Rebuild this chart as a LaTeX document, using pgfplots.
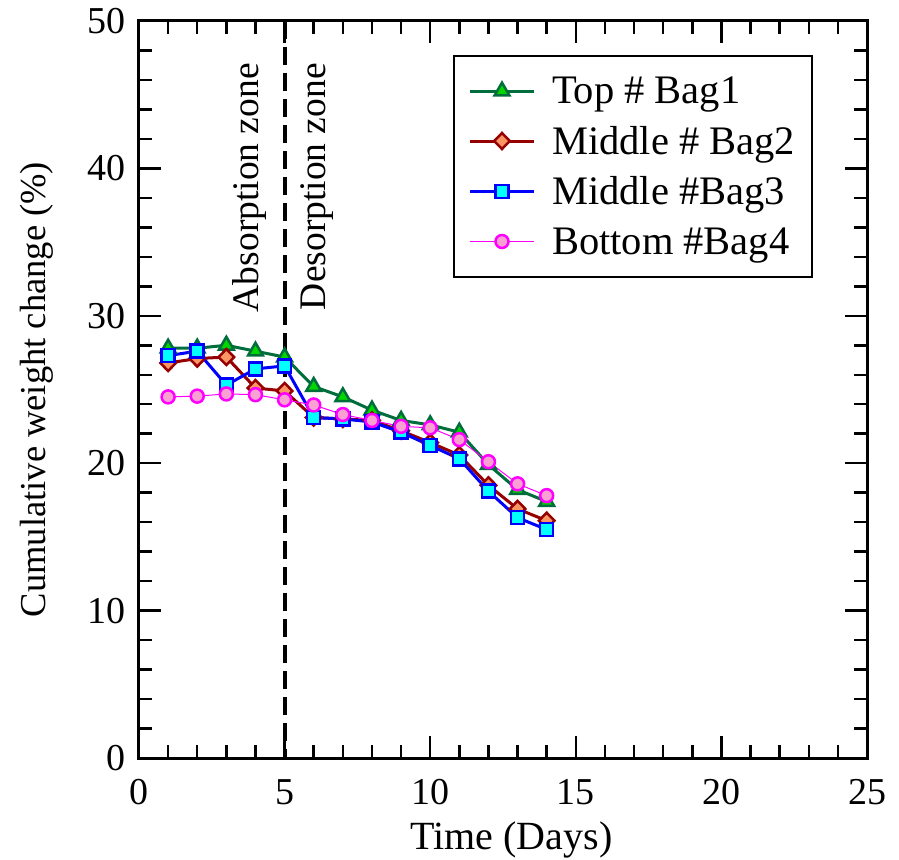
\documentclass[border=0pt]{standalone}
\usepackage{fontspec}
\setmainfont{Liberation Serif}
\usepackage{pgfplots}
\pgfplotsset{compat=1.18}
\definecolor{tgreen}{RGB}{0,110,60}
\definecolor{tgfill}{RGB}{0,215,0}
\definecolor{mred}{RGB}{150,0,0}
\definecolor{mfill}{RGB}{250,150,100}
\definecolor{bblue}{RGB}{0,0,255}
\definecolor{bcyan}{RGB}{0,255,255}
\definecolor{pmag}{RGB}{255,0,255}
\definecolor{ppink}{RGB}{250,160,210}
\begin{document}
\begin{tikzpicture}
\begin{axis}[
  name=main,
  scale only axis, width=728pt, height=737pt,
  xmin=0, xmax=25, ymin=0, ymax=50,
  xtick={0,5,...,25}, ytick={0,10,...,50},
  minor x tick num=4, minor y tick num=4,
  tick align=inside, major tick length=22pt, minor tick length=13pt,
  every tick/.style={black, line width=2.5pt},
  axis line style={line width=3pt},
  tick label style={font=\fontsize{38}{44}\selectfont, inner sep=0pt},
  xticklabel style={yshift=-21pt},
  yticklabel style={xshift=-13pt},
  /pgf/number format/assume math mode=true,
  xlabel={Time (Days)}, ylabel={Cumulative weight change (\%)},
  xlabel style={font=\fontsize{40}{46}\selectfont, at={(axis description cs:0.5117,-0.1235)}, anchor=base},
  ylabel style={font=\fontsize{36.5}{42}\selectfont, at={(axis description cs:-0.140,0.5)}, anchor=center},
  legend style={at={(0.9258,0.9539)}, anchor=north east, draw=black, line width=2pt,
    font=\fontsize{40.5}{46}\selectfont, row sep=17pt, column sep=15pt, inner xsep=15pt, inner ysep=19pt},
  legend cell align=left,
  legend image code/.code={\draw[mark repeat=2, mark phase=2, #1] plot coordinates {(0pt,0pt) (31.5pt,0pt) (63pt,0pt)};},
  clip=false,
]
\addplot[tgreen, line width=3pt, mark=triangle*, mark size=8.5pt, mark options={fill=tgfill, draw=tgreen, line width=2.5pt}] coordinates {
(1,27.8)(2,27.8)(3,28.0)(4,27.6)(5,27.2)(6,25.2)(7,24.5)(8,23.6)(9,22.9)(10,22.6)(11,22.1)(12,19.9)(13,18.2)(14,17.4)};
\addlegendentry{Top \# Bag1}
\addplot[mred, line width=3pt, mark=diamond*, mark size=8pt, mark options={fill=mfill, draw=mred, line width=2.5pt, xscale=1.3}] coordinates {
(1,26.8)(2,27.1)(3,27.2)(4,25.1)(5,24.9)(6,23.1)(7,23.0)(8,22.9)(9,22.2)(10,21.4)(11,20.55)(12,18.5)(13,16.9)(14,16.1)};
\addlegendentry{Middle \# Bag2}
\addplot[bblue, line width=3pt, mark=square*, mark size=6.5pt, mark options={fill=bcyan, draw=bblue, line width=2.5pt}] coordinates {
(1,27.3)(2,27.6)(3,25.3)(4,26.4)(5,26.6)(6,23.1)(7,23.0)(8,22.8)(9,22.1)(10,21.2)(11,20.3)(12,18.1)(13,16.3)(14,15.5)};
\addlegendentry{Middle \#Bag3}
\addplot[pmag, line width=1pt, mark=*, mark size=6.5pt, mark options={fill=ppink, draw=pmag, line width=2.5pt}] coordinates {
(1,24.5)(2,24.55)(3,24.7)(4,24.65)(5,24.3)(6,23.95)(7,23.3)(8,22.9)(9,22.5)(10,22.4)(11,21.6)(12,20.1)(13,18.6)(14,17.8)};
\addlegendentry{Bottom \#Bag4}
\addplot[black, line width=4pt, dash pattern=on 18pt off 8pt, forget plot] coordinates {(5,50)(5,0)};
\node[rotate=90, anchor=east, inner sep=0pt, font=\fontsize{37.5}{44}\selectfont] at (axis cs:3.777,47.15) {Absorption zone};
\node[rotate=90, anchor=east, inner sep=0pt, font=\fontsize{37.5}{44}\selectfont] at (axis cs:6.13,47.15) {Desorption zone};
\coordinate (bl) at (rel axis cs:0,0);
\coordinate (tr) at (rel axis cs:1,1);
\end{axis}
\pgfresetboundingbox
\path ([xshift=-139pt,yshift=-101pt]bl) rectangle ([xshift=32pt,yshift=21pt]tr);
\end{tikzpicture}
\end{document}
